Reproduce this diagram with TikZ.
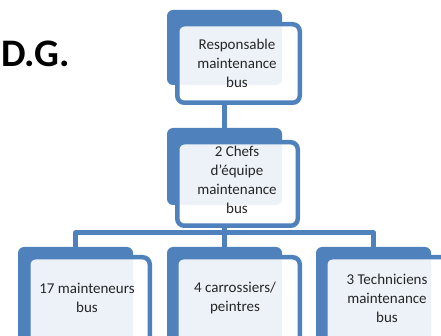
\documentclass[tikz,border=0pt]{standalone}
\usepackage{fontspec}
\setmainfont{Carlito}
\usetikzlibrary{backgrounds}
\definecolor{obl}{HTML}{4F81BD}
\begin{document}
\begin{tikzpicture}[x=1pt,y=-1pt,
 backbox/.style={rectangle, rounded corners=6pt, fill=obl, draw=none, inner sep=0pt, outer sep=0pt, anchor=north west},
 frontbox/.style={rectangle, rounded corners=7pt, fill=white, fill opacity=0.9, draw=obl, line width=4.5pt, inner sep=0pt, anchor=north west},
 lbl/.style={align=center, font=\fontsize{15}{19}\selectfont, text=black!85, inner sep=0pt},
 conn/.style={draw=obl, line width=5pt, line join=round}]
\useasboundingbox (0,0) rectangle (441,336);
\clip (0,0) rectangle (441,336);
% top
\node[backbox, minimum width=115pt, minimum height=75pt] (topb) at (167,10) {};
\node[frontbox, minimum width=122.5pt, minimum height=78.5pt] (topf) at (175,22) {};
\node[lbl] (topt) at (237,63) {Responsable\\maintenance\\bus};
% chefs
\node[backbox, minimum width=115pt, minimum height=77pt] (chefb) at (167,128) {};
\node[frontbox, minimum width=120.5pt, minimum height=83.5pt] (cheff) at (175,140) {};
\node[lbl] (cheft) at (237,180) {2 Chefs\\d'équipe\\maintenance\\bus};
% bottom row
\node[backbox, minimum width=115pt, minimum height=100pt] (b1b) at (18,247) {};
\node[frontbox, minimum width=121.5pt, minimum height=95.5pt] (b1f) at (26,255) {};
\node[lbl] (b1t) at (87,298) {17 mainteneurs\\bus};
\node[backbox, minimum width=115pt, minimum height=100pt] (b2b) at (167,247) {};
\node[frontbox, minimum width=123.5pt, minimum height=95.5pt] (b2f) at (174,255) {};
\node[lbl] (b2t) at (235,298) {4 carrossiers/\\peintres};
\node[backbox, minimum width=115pt, minimum height=100pt] (b3b) at (316,247) {};
\node[frontbox, minimum width=123.5pt, minimum height=95.5pt] (b3f) at (323,255) {};
\node[lbl] (b3t) at (387,298) {3 Techniciens\\maintenance\\bus};
% title
\node[anchor=base west, inner sep=0pt, font=\fontsize{39}{44}\selectfont\bfseries] (dg) at (1,67) {D.G.};
% connectors
\coordinate (j) at (224.5,233);
\begin{scope}[on background layer]
\draw[conn] (topf.south -| topb.south) -- (chefb.north);
\draw[conn] (cheff.south -| chefb.south) -- (j);
\draw[conn] (b1b.north) -- (b1b.north |- j) -- (b3b.north |- j) -- (b3b.north);
\draw[conn] (j) -- (b2b.north);
\end{scope}
\end{tikzpicture}
\end{document}
